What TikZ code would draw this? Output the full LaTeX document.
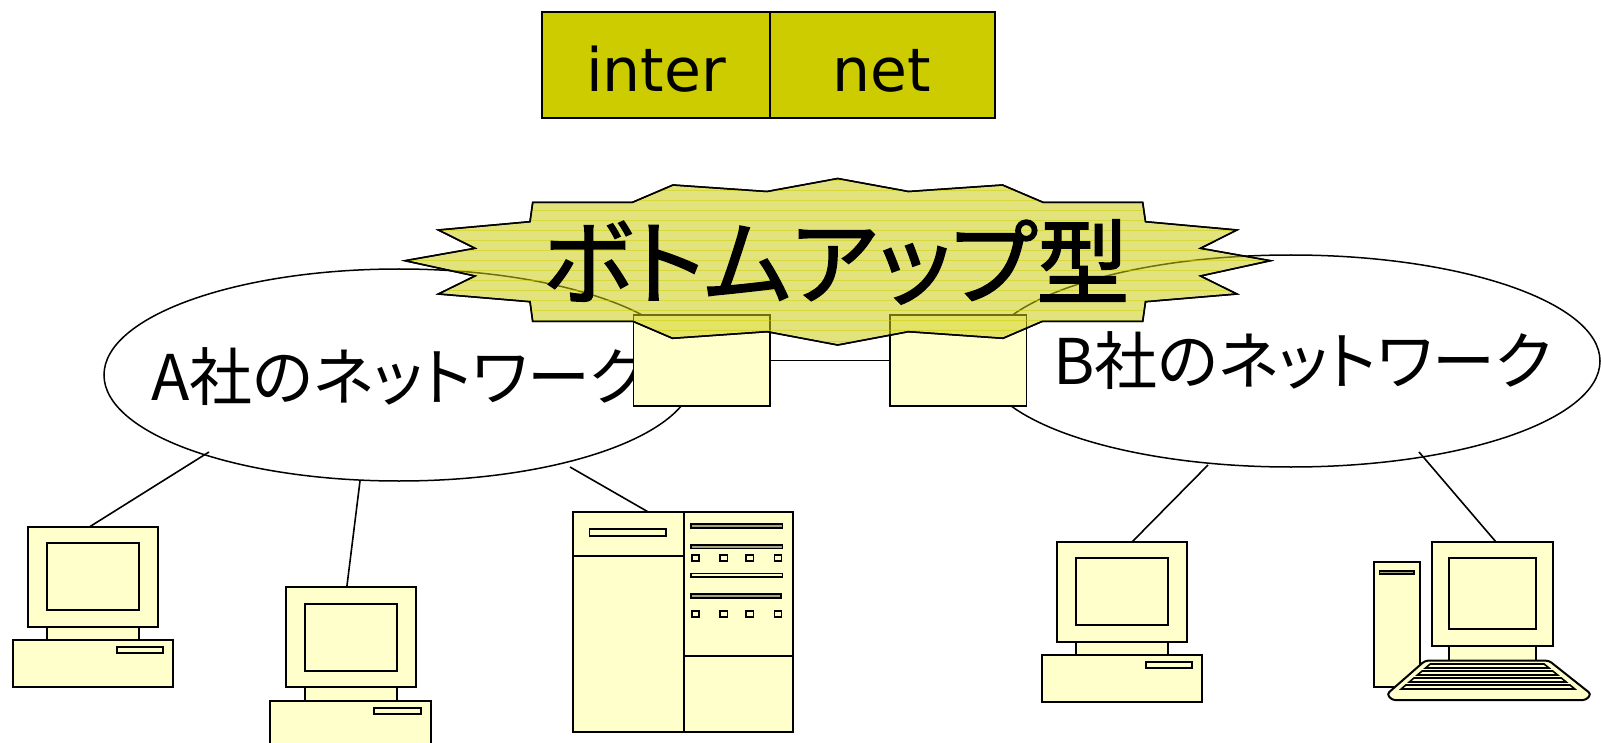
\documentclass[tikz,border=0pt]{standalone}
\usepackage{fontspec}
\newfontfamily\jpfont[RawFeature={+palt}]{Noto Sans CJK JP}
\newfontfamily\jptitle[RawFeature={+palt}, FakeBold=1.6]{Noto Sans CJK JP}
\newfontfamily\latinfont{DejaVu Sans}
\usetikzlibrary{shapes.geometric}

\definecolor{netolive}{RGB}{204,204,0}
\definecolor{paleyellow}{RGB}{255,255,204}
\definecolor{burstfill}{RGB}{204,204,20}
\definecolor{slotdark}{RGB}{165,165,125}

\tikzset{
  hw/.style={draw=black, line width=2pt, fill=paleyellow},
  hwdark/.style={draw=black, line width=1.6pt, fill=slotdark},
  link/.style={draw=black, line width=1.6pt},
  net/.style={draw=black, line width=1.5pt, fill=white, ellipse, inner sep=0pt},
  router/.style={draw=black, line width=1.5pt, fill=paleyellow, inner sep=0pt,
                 minimum width=136.7pt, minimum height=91pt},
  cell/.style={draw=black, line width=1.5pt, fill=netolive, inner sep=0pt,
               minimum height=106pt},
  netlabel/.style={inner sep=0pt, anchor=base, font=\latinfont\fontsize{60}{60}\selectfont},
  jplabel/.style={inner sep=0pt, anchor=west, font=\jpfont\fontsize{63}{63}\selectfont},
  burst/.style={draw=black, line width=1.5pt, fill=burstfill, fill opacity=0.55},
  stripe/.style={draw=netolive, draw opacity=0.5, line width=1pt},
  desktop/.pic={
    \draw[hw] (0,0) rectangle (130,100);
    \draw[hw] (19,16.7) rectangle (111,83.3);
    \draw[hw] (19,100) rectangle (111,113.3);
    \draw[hw] (-15.6,113.3) rectangle (145,160);
    \draw[hw] (88.4,120.6) rectangle (135,126.6);
  }
}

% outline of the starburst behind the title
\def\burstpath{(532.7,202.5) -- (632,202.5) -- (673,185) -- (767,191.5) -- (837.7,178.5)
  -- (908.5,191.5) -- (1002.5,185) -- (1043.5,202.5) -- (1142.7,202.5) -- (1145.5,221.7)
  -- (1237,230) -- (1200.5,248.3) -- (1270.5,260.7) -- (1200.5,276) -- (1237,294)
  -- (1145.5,301.7) -- (1142.7,321.5) -- (1042,321.5) -- (1003,338.3) -- (908.5,331.7)
  -- (837.7,345) -- (767,331.7) -- (672.5,338.3) -- (633.3,321.5) -- (532.7,321.5)
  -- (530,301.7) -- (438.3,294) -- (475,276) -- (405,260.7) -- (475,248.3)
  -- (438.3,230) -- (530,221.7) -- cycle}

\begin{document}
\begin{tikzpicture}[x=1pt, y=-1pt]
\fill[white] (0,0) rectangle (1601,743);
\useasboundingbox (0,0) rectangle (1601,743);

% inter | net
\node[cell, minimum width=228pt] (cellL) at (656,65) {};
\node[cell, minimum width=225pt] (cellR) at (882.5,65) {};
\node[netlabel] (inter) at (656,92) {inter};
\node[netlabel] (netw) at (882,92) {net};

% the two company networks
\node[net, minimum width=590pt, minimum height=212pt] (netA) at (399,375) {};
\node[net, minimum width=618pt, minimum height=212pt] (netB) at (1291,361) {};
\node[jplabel] (labA) at (151,377) {A社のネットワーク};
\node[jplabel] (labB) at (1053,361) {B社のネットワーク};

% attachment points
\coordinate (eA1) at (209,452);
\coordinate (eA2) at (360,481);
\coordinate (eA3) at (570,467);
\coordinate (eB1) at (1208,465);
\coordinate (eB2) at (1419,452);
\coordinate (pc1top) at (89.3,527);
\coordinate (pc2top) at (346.7,588);
\coordinate (srvtop) at (648.3,512);
\coordinate (pc3top) at (1132,542);
\coordinate (pc4top) at (1496,542);

\draw[link] (eA1) -- (pc1top);
\draw[link] (eA2) -- (pc2top);
\draw[link] (eA3) -- (srvtop);
\draw[link] (eB1) -- (pc3top);
\draw[link] (eB2) -- (pc4top);

% desktop computers
\pic (pc1) at (28.3,526.7) {desktop};
\pic (pc2) at (285.7,587.3) {desktop};
\pic (pc3) at (1057.3,541.7) {desktop};

% server cabinet
\draw[hw] (572.7,511.7) rectangle (793.3,732.3);
\draw[hw] (684,511.7) -- (684,732.3);
\draw[hw] (572.7,556) -- (684,556);
\draw[hw] (684,655.7) -- (793.3,655.7);
\draw[hw, line width=1.6pt] (589.3,529) rectangle (666,535.7);
\draw[hwdark] (691,524) rectangle (782.3,527.7);
\draw[hwdark] (691,544.7) rectangle (782.3,548.3);
\draw[hw, line width=1.6pt] (691,573.5) rectangle (782.3,577);
\draw[hwdark] (691,594) rectangle (780.7,597.7);
\foreach \sx in {691.7,720,746,774.3}{
  \draw[hw, line width=1.6pt] (\sx,555) rectangle ++(7.3,6);
  \draw[hw, line width=1.6pt] (\sx,610.7) rectangle ++(7.3,6);
}

% workstation with tower and keyboard
\draw[hw] (1374,561.7) rectangle (1420.4,687.3);
\draw[hwdark] (1379.6,570.7) rectangle (1414,574);
\draw[hw] (1432.4,541.7) rectangle (1552.6,646);
\draw[hw] (1448.8,558.3) rectangle (1535.5,629);
\draw[hw] (1448.8,646) rectangle (1535.5,661.7);
\draw[hw, rounded corners=3pt] (1425,660.7) -- (1549,660.7) -- (1591,694) -- (1586,700)
  -- (1392,700) -- (1387,694) -- cycle;
\draw[hw, line width=1.6pt] (1430.2,664) -- (1544.1,664) -- (1549,668) -- (1425.5,668) -- cycle;
\draw[hw, line width=1.6pt] (1422.1,671) -- (1552.7,671) -- (1557.6,675) -- (1417.4,675) -- cycle;
\draw[hw, line width=1.6pt] (1413.9,678) -- (1561.3,678) -- (1566.2,682) -- (1409.3,682) -- cycle;
\draw[hw, line width=1.6pt] (1405.8,685) -- (1569.9,685) -- (1574.8,689) -- (1401.2,689) -- cycle;

% gateways joining the networks
\node[router] (r1) at (701.7,360.5) {};
\node[router] (r2) at (958.3,360.5) {};
\draw[link] (r1.east) -- (r2.west);

% starburst with horizontal hatching
\path[burst] \burstpath;
\begin{scope}
  \clip \burstpath;
  \foreach \yy in {181,191,...,345}{
    \draw[stripe] (400,\yy) -- (1275,\yy);
  }
\end{scope}
\draw[black, line width=1.5pt] \burstpath;

\node[inner sep=0pt, font=\jptitle\fontsize{93}{93}\selectfont] (title) at (836,262) {ボトムアップ型};
\end{tikzpicture}
\end{document}
